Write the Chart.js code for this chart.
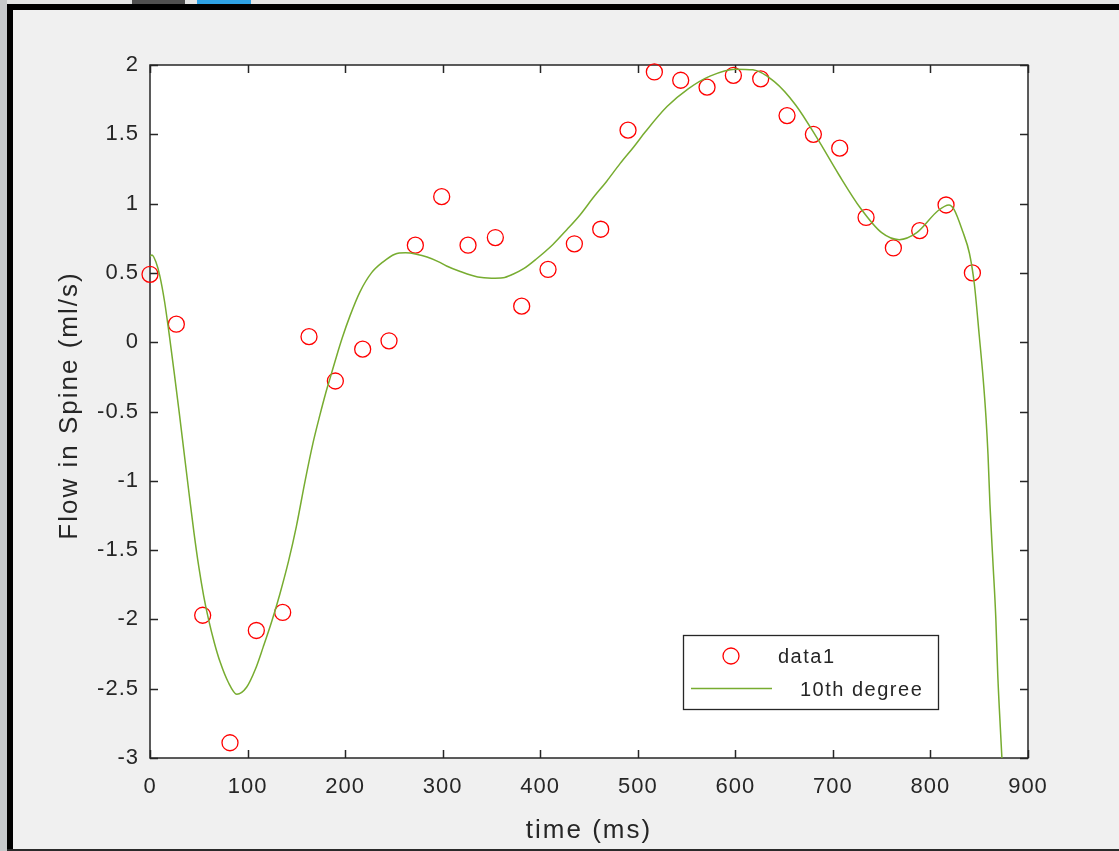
<!DOCTYPE html>
<html>
<head>
<meta charset="utf-8">
<title>Flow in Spine</title>
<script src="https://cdn.jsdelivr.net/npm/chart.js@4.4.1/dist/chart.umd.min.js"></script>
<style>
    html, body {
        margin: 0;
        padding: 0;
        width: 1119px;
        height: 851px;
        overflow: hidden;
        background: #f0f0f0;
    }
    .frame { position: absolute; }
    #chart-wrap {
        position: absolute;
        left: 0;
        top: 0;
        width: 1119px;
        height: 851px;
    }
</style>
</head>
<body>
<!-- window frame around the figure -->
<div class="frame" style="left:0;top:0;width:1119px;height:4px;background:#e4e5e5"></div>
<div class="frame" style="left:132px;top:0;width:53px;height:4px;background:#505050"></div>
<div class="frame" style="left:197px;top:0;width:54px;height:4px;background:#2ea3e6"></div>
<div class="frame" style="left:0;top:0;width:7px;height:851px;background:#c6c9cb"></div>
<div class="frame" style="left:7px;top:4px;width:1112px;height:6px;background:#000"></div>
<div class="frame" style="left:7px;top:4px;width:6px;height:847px;background:#000"></div>
<div class="frame" style="left:7px;top:849px;width:1112px;height:2px;background:#2a2a2a"></div>

<div id="chart-wrap"><canvas id="flowChart"></canvas></div>

<script>
// measured samples (ms, ml/s)
const sampleTimes = [0, 27, 54, 82, 109, 136, 163, 190, 218, 245, 272, 299, 326, 354, 381, 408,
    435, 462, 490, 517, 544, 571, 598, 626, 653, 680, 707, 734, 762, 789, 816, 843];
const sampleFlows = [0.49, 0.13, -1.97, -2.89, -2.08, -1.95, 0.04, -0.28, -0.05, 0.01, 0.70, 1.05,
    0.70, 0.755, 0.26, 0.525, 0.71, 0.815, 1.53, 1.95, 1.89, 1.84, 1.925, 1.90, 1.635, 1.50, 1.40,
    0.90, 0.68, 0.805, 0.99, 0.50];

// 10th degree fit
const fitTimes = [0, 2, 6, 10, 15, 20, 25, 30, 35, 40, 45, 50, 55, 60, 66, 72, 80, 89, 99, 108,
    116, 125, 133, 142, 150, 159, 167, 174, 180, 185, 190, 197, 205, 215, 227, 239, 251, 262, 273,
    284, 296, 304, 318, 336, 350, 362, 372, 383, 396, 413, 427, 441, 454, 468, 482, 496, 508, 530,
    552, 574, 600, 618, 640, 662, 684, 706, 728, 750, 768, 786, 808, 819, 824, 833, 840, 845, 850,
    854, 857, 859, 861, 864, 867, 869, 872, 874];
const fitFlows = [0.62, 0.63, 0.58, 0.48, 0.29, 0.04, -0.23, -0.51, -0.80, -1.09, -1.37, -1.62,
    -1.83, -2.00, -2.17, -2.31, -2.45, -2.54, -2.49, -2.36, -2.20, -2.01, -1.82, -1.58, -1.33, -1.00,
    -0.73, -0.53, -0.37, -0.25, -0.13, 0.03, 0.19, 0.36, 0.50, 0.58, 0.635, 0.645, 0.635, 0.615, 0.58,
    0.55, 0.51, 0.47, 0.462, 0.465, 0.49, 0.53, 0.60, 0.705, 0.81, 0.92, 1.04, 1.16, 1.29, 1.41, 1.52,
    1.70, 1.83, 1.92, 1.97, 1.965, 1.88, 1.71, 1.47, 1.21, 0.97, 0.79, 0.74, 0.79, 0.95, 0.99, 0.96,
    0.80, 0.64, 0.42, 0.05, -0.26, -0.55, -0.81, -1.17, -1.58, -1.99, -2.40, -2.83, -3.1];

// ticks
const xTickValues = [0, 100, 200, 300, 400, 500, 600, 700, 800, 900];
const xTickLabels = ['0', '100', '200', '300', '400', '500', '600', '700', '800', '900'];
const yTickValues = [-3, -2.5, -2, -1.5, -1, -0.5, 0, 0.5, 1, 1.5, 2];
const yTickLabels = ['-3', '-2.5', '-2', '-1.5', '-1', '-0.5', '0', '0.5', '1', '1.5', '2'];

const xTitle = 'time (ms)';
const yTitle = 'Flow in Spine (ml/s)';

const AXIS_COLOR = '#262626';
const FONT = "'Liberation Sans', Arial, Helvetica, sans-serif";
const TICK_LEN = 8;

// white plot area + tick label spacing
const plotBackground = {
    id: 'plotBackground',
    beforeDraw(chart) {
        const { ctx, chartArea: a } = chart;
        ctx.save();
        ctx.fillStyle = '#ffffff';
        ctx.fillRect(a.left, a.top, a.right - a.left, a.bottom - a.top);
        ctx.restore();
        ctx.letterSpacing = '1px';
    }
};

// box around the axes with inward ticks on all four sides
const axesBox = {
    id: 'axesBox',
    beforeDatasetsDraw(chart) {
        const { ctx, chartArea: a, scales } = chart;
        ctx.save();
        ctx.strokeStyle = AXIS_COLOR;
        ctx.lineWidth = 1.5;
        ctx.beginPath();
        scales.x.ticks.forEach(t => {
            const px = Math.round(scales.x.getPixelForValue(t.value)) + 0.5;
            ctx.moveTo(px, a.bottom);
            ctx.lineTo(px, a.bottom - TICK_LEN);
            ctx.moveTo(px, a.top);
            ctx.lineTo(px, a.top + TICK_LEN);
        });
        scales.y.ticks.forEach(t => {
            const py = Math.round(scales.y.getPixelForValue(t.value)) + 0.5;
            ctx.moveTo(a.left, py);
            ctx.lineTo(a.left + TICK_LEN, py);
            ctx.moveTo(a.right, py);
            ctx.lineTo(a.right - TICK_LEN, py);
        });
        ctx.stroke();
        ctx.strokeRect(a.left, a.top, a.right - a.left, a.bottom - a.top);
        ctx.restore();
    }
};

// axis titles and the legend inside the plot
const titlesAndLegend = {
    id: 'titlesAndLegend',
    afterDraw(chart) {
        const { ctx, chartArea: a } = chart;
        const sets = chart.data.datasets;
        ctx.save();
        ctx.fillStyle = AXIS_COLOR;

        // axis titles
        ctx.font = `26px ${FONT}`;
        ctx.letterSpacing = '2px';
        ctx.textAlign = 'center';
        ctx.textBaseline = 'alphabetic';
        ctx.fillText(xTitle, (a.left + a.right) / 2, a.bottom + 80);
        ctx.save();
        ctx.translate(a.left - 73, (a.top + a.bottom) / 2 - 6);
        ctx.rotate(-Math.PI / 2);
        ctx.fillText(yTitle, 0, 0);
        ctx.restore();

        // legend box
        const bx = a.right - 345, by = a.bottom - 123, bw = 255, bh = 74;
        ctx.fillStyle = '#ffffff';
        ctx.fillRect(bx, by, bw, bh);
        ctx.strokeStyle = AXIS_COLOR;
        ctx.lineWidth = 1.3;
        ctx.strokeRect(bx + 0.5, by + 0.5, bw, bh);

        // entry 1: circle marker
        ctx.strokeStyle = sets[0].borderColor;
        ctx.lineWidth = sets[0].borderWidth;
        ctx.beginPath();
        ctx.arc(bx + 48, by + 21, sets[0].pointRadius, 0, Math.PI * 2);
        ctx.stroke();

        // entry 2: line
        ctx.strokeStyle = sets[1].borderColor;
        ctx.lineWidth = sets[1].borderWidth;
        ctx.beginPath();
        ctx.moveTo(bx + 8, by + 53.5);
        ctx.lineTo(bx + 89, by + 53.5);
        ctx.stroke();

        ctx.fillStyle = AXIS_COLOR;
        ctx.font = `20px ${FONT}`;
        ctx.letterSpacing = '1.5px';
        ctx.textAlign = 'left';
        ctx.textBaseline = 'middle';
        ctx.fillText(sets[0].label, bx + 95, by + 22);
        ctx.fillText(sets[1].label, bx + 117, by + 55);
        ctx.restore();
        ctx.letterSpacing = '0px';
    }
};

const samplePoints = sampleTimes.map((t, i) => ({ x: t, y: sampleFlows[i] }));
const fitPoints = fitTimes.map((t, i) => ({ x: t, y: fitFlows[i] }));

const ctx = document.getElementById('flowChart').getContext('2d');
const chart = new Chart(ctx, {
    type: 'scatter',
    data: {
        datasets: [{
            label: 'data1',
            data: samplePoints,
            showLine: false,
            pointStyle: 'circle',
            pointRadius: 8,
            pointHoverRadius: 8,
            borderColor: '#ff0000',
            backgroundColor: 'rgba(0,0,0,0)',
            borderWidth: 1.3,
            clip: false,
            order: 2
        }, {
            label: '10th degree',
            data: fitPoints,
            showLine: true,
            pointRadius: 0,
            borderColor: '#77ac30',
            backgroundColor: '#77ac30',
            borderWidth: 1.5,
            cubicInterpolationMode: 'monotone',
            order: 1
        }]
    },
    options: {
        responsive: true,
        maintainAspectRatio: false,
        animation: false,
        devicePixelRatio: 1,
        layout: {
            padding: { left: 0, top: 65, right: 91, bottom: 0 }
        },
        plugins: {
            legend: { display: false },
            tooltip: { enabled: false }
        },
        scales: {
            x: {
                type: 'linear',
                min: 0,
                max: 900,
                grid: { display: false, drawTicks: false },
                border: { display: false },
                afterBuildTicks: scale => {
                    scale.ticks = xTickValues.map(v => ({ value: v }));
                },
                afterFit: scale => { scale.height = 93; },
                ticks: {
                    color: AXIS_COLOR,
                    font: { family: FONT, size: 22 },
                    padding: 16,
                    maxRotation: 0,
                    autoSkip: false,
                    callback: (value, index) => xTickLabels[index]
                }
            },
            y: {
                type: 'linear',
                min: -3,
                max: 2,
                grid: { display: false, drawTicks: false },
                border: { display: false },
                afterBuildTicks: scale => {
                    scale.ticks = yTickValues.map(v => ({ value: v }));
                },
                afterFit: scale => { scale.width = 150; },
                ticks: {
                    color: AXIS_COLOR,
                    font: { family: FONT, size: 22 },
                    padding: 11,
                    autoSkip: false,
                    callback: (value, index) => yTickLabels[index]
                }
            }
        }
    },
    plugins: [plotBackground, axesBox, titlesAndLegend]
});
</script>
</body>
</html>
